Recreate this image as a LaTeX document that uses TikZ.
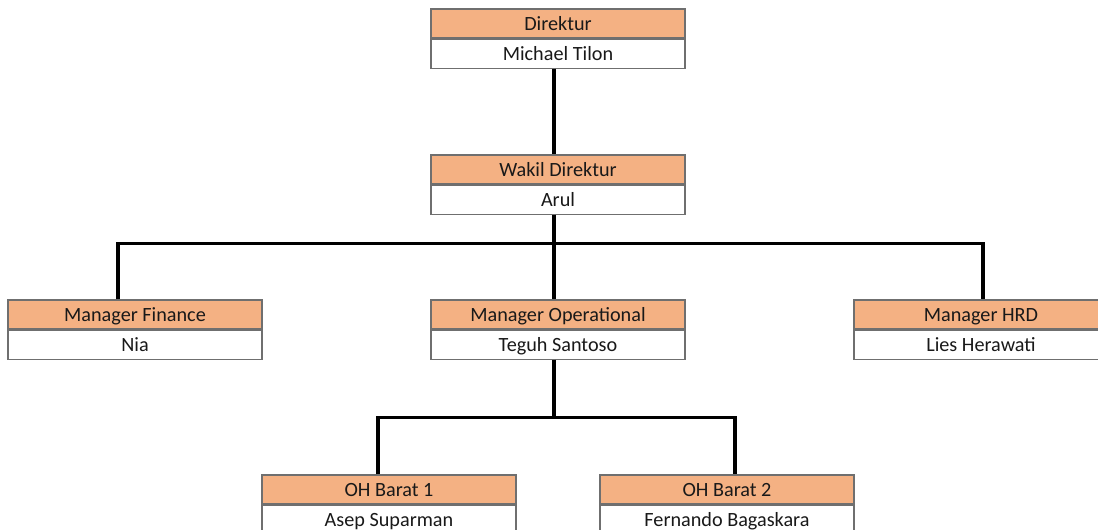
\documentclass[tikz,border=0pt]{standalone}
\usepackage{fontspec}
\setmainfont{Carlito}
\usetikzlibrary{positioning}
\definecolor{headfill}{HTML}{F4B183}
\definecolor{boxline}{HTML}{6F6F6F}

\begin{document}
\begin{tikzpicture}[
    head/.style={draw=boxline, fill=headfill, line width=0.6pt, minimum width=5.08cm,
      minimum height=0.58cm, inner sep=0pt, text height=9.4pt, text depth=1.2pt,
      text=black!90, font=\fontsize{11.5}{13}\selectfont},
    person/.style={head, fill=white},
    link/.style={line width=1.8pt, black}]
    \useasboundingbox (0,0) rectangle (21.96,-10.6);

    % Top level
    \node[head] (dir) at (11.16,-0.47) {Direktur};
    \node[person, below=0pt of dir] (dirn) {Michael Tilon};

    \node[head] (wakil) at (11.16,-3.39) {Wakil Direktur};
    \node[person, below=0pt of wakil] (wakiln) {Arul};

    % Managers
    \node[head] (fin) at (2.7,-6.29) {Manager Finance};
    \node[person, below=0pt of fin] (finn) {Nia};

    \node[head] (ops) at (11.16,-6.29) {Manager Operational};
    \node[person, below=0pt of ops] (opsn) {Teguh Santoso};

    \node[head] (hrd) at (19.62,-6.29) {Manager HRD};
    \node[person, below=0pt of hrd] (hrdn) {Lies Herawati};

    % Operational heads
    \node[head] (oh1) at (7.78,-9.79) {OH Barat 1};
    \node[person, below=0pt of oh1] (oh1n) {Asep Suparman};

    \node[head] (oh2) at (14.54,-9.79) {OH Barat 2};
    \node[person, below=0pt of oh2] (oh2n) {Fernando Bagaskara};

    % Connectors
    \draw[link] ([xshift=-0.08cm]dirn.south) -- ([xshift=-0.08cm]wakil.north);
    \draw[link] ([xshift=-0.08cm]wakiln.south) -- ++(0,-0.58) coordinate (bus);
    \draw[link] ([xshift=-0.34cm]fin.north) |- (bus) -| ([xshift=0.04cm]hrd.north);
    \draw[link] (bus) -- ([xshift=-0.08cm]ops.north);
    \draw[link] ([xshift=-0.08cm]opsn.south) -- ++(0,-1.16) coordinate (opsbus);
    \draw[link] ([xshift=-0.22cm]oh1.north) |- (opsbus) -| ([xshift=0.16cm]oh2.north);
\end{tikzpicture}
\end{document}
